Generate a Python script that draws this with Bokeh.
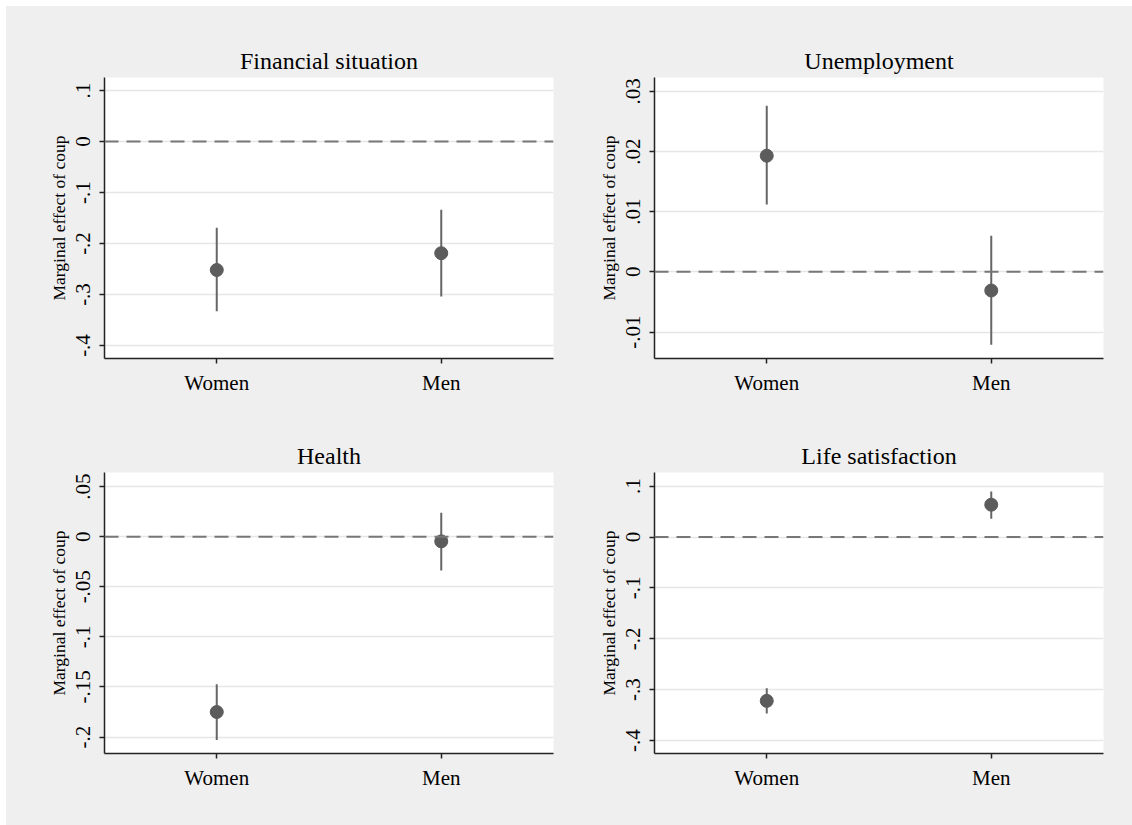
from bokeh.plotting import figure
from bokeh.models import FixedTicker, Span, FactorRange, Range1d, Spacer
from bokeh.layouts import gridplot, column, row
from bokeh.embed import file_html
from bokeh.resources import INLINE

# ---- data ----
groups = ["Women", "Men"]

titles = ["Financial situation", "Unemployment", "Health", "Life satisfaction"]

fin_est = [-0.252, -0.219]
fin_lo = [-0.333, -0.304]
fin_hi = [-0.169, -0.134]

unemp_est = [0.0193, -0.0031]
unemp_lo = [0.0112, -0.0121]
unemp_hi = [0.0276, 0.0060]

health_est = [-0.175, -0.0047]
health_lo = [-0.203, -0.0339]
health_hi = [-0.1474, 0.0239]

life_est = [-0.322, 0.0637]
life_lo = [-0.347, 0.036]
life_hi = [-0.297, 0.0898]

fin_ticks = [0.1, 0.0, -0.1, -0.2, -0.3, -0.4]
fin_tick_labels = [".1", "0", "-.1", "-.2", "-.3", "-.4"]
unemp_ticks = [0.03, 0.02, 0.01, 0.0, -0.01]
unemp_tick_labels = [".03", ".02", ".01", "0", "-.01"]
health_ticks = [0.05, 0.0, -0.05, -0.1, -0.15, -0.2]
health_tick_labels = [".05", "0", "-.05", "-.1", "-.15", "-.2"]
life_ticks = [0.1, 0.0, -0.1, -0.2, -0.3, -0.4]
life_tick_labels = [".1", "0", "-.1", "-.2", "-.3", "-.4"]

y_ranges = [(-0.4255, 0.1255), (-0.0144, 0.0323), (-0.2164, 0.064), (-0.4255, 0.127)]

y_label = "Marginal effect of coup"
zero_ref = 0.0

BG = "#efefef"
FONT = "Liberation Serif"
MARK = "#5c5c5c"

def panel(title, est, lo, hi, ticks, tick_labels, yr, bl, br, bt, bb):
    p = figure(
        x_range=FactorRange(*groups, range_padding=0),
        y_range=Range1d(*yr),
        frame_width=449, frame_height=281,
        min_border_left=bl, min_border_right=br,
        min_border_top=bt, min_border_bottom=bb,
        output_backend="svg", toolbar_location=None,
        background_fill_color="white", border_fill_color=BG,
        outline_line_color=None,
    )
    p.title.text = title
    p.title.align = "center"
    p.title.text_font = FONT
    p.title.text_font_size = "24px"
    p.title.text_font_style = "normal"
    p.title.text_color = "black"
    p.title.standoff = 8

    p.xgrid.grid_line_color = None
    p.ygrid.grid_line_color = "#e6e6e6"
    p.ygrid.grid_line_width = 1.5

    p.yaxis.ticker = FixedTicker(ticks=ticks)
    p.yaxis.major_label_overrides = {t: l for t, l in zip(ticks, tick_labels)}
    p.yaxis.major_label_orientation = "vertical"
    p.yaxis.axis_label = y_label
    p.yaxis.axis_label_text_font = FONT
    p.yaxis.axis_label_text_font_size = "17.5px"
    p.yaxis.axis_label_text_font_style = "normal"
    p.yaxis.axis_label_text_color = "black"
    p.yaxis.axis_label_standoff = 5
    p.yaxis.minor_tick_line_color = None

    for ax in (p.xaxis, p.yaxis):
        ax.major_label_text_font = FONT
        ax.major_label_text_font_size = "21px"
        ax.major_label_text_color = "black"
        ax.axis_line_color = "#222222"
        ax.axis_line_width = 1.5
        ax.major_tick_line_color = "#222222"
        ax.major_tick_line_width = 1.5
        ax.major_tick_out = 5
        ax.major_tick_in = 0
        ax.major_label_standoff = 7
    p.yaxis.major_label_standoff = 9

    zl = Span(location=zero_ref, dimension="width", line_color="#777777",
              line_width=2, line_dash="14 8")
    p.add_layout(zl)

    p.segment(x0=groups, y0=lo, x1=groups, y1=hi, line_color="#666666", line_width=2)
    p.scatter(x=groups, y=est, size=13, fill_color=MARK, line_color=MARK)
    return p

p1 = panel(titles[0], fin_est, fin_lo, fin_hi, fin_ticks, fin_tick_labels, y_ranges[0], 98, 13, 71, 54)
p2 = panel(titles[1], unemp_est, unemp_lo, unemp_hi, unemp_ticks, unemp_tick_labels, y_ranges[1], 88, 29, 71, 54)
p3 = panel(titles[2], health_est, health_lo, health_hi, health_ticks, health_tick_labels, y_ranges[2], 98, 13, 60, 72)
p4 = panel(titles[3], life_est, life_lo, life_hi, life_ticks, life_tick_labels, y_ranges[3], 88, 29, 60, 72)

grid = gridplot([[p1, p2], [p3, p4]], toolbar_location=None)
grid.styles = {"background-color": BG}
top_sp = Spacer(height=6, width=1132, styles={"background-color": "white"})
left_sp = Spacer(width=6, height=819, styles={"background-color": "white"})
inner = row(left_sp, grid, styles={"background-color": BG})
layout = column(top_sp, inner, styles={"background-color": BG})

open("out.html", "w").write(file_html(layout, INLINE))
